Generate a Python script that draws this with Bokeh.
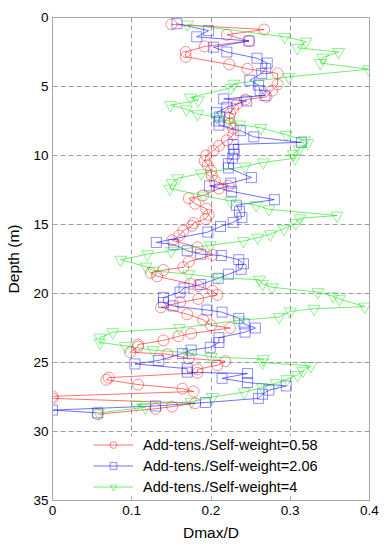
from bokeh.plotting import figure
from bokeh.models import Range1d, FixedTicker, NumeralTickFormatter
from bokeh.embed import file_html
from bokeh.resources import INLINE

# ---- data ----
red_depth = [0.5, 0.87, 1.25, 1.7, 2.1, 2.5, 2.85, 3.4, 3.72, 4.05, 4.85, 5.3, 5.75, 5.95, 6.25,
             6.6, 6.95, 7.3, 7.7, 8.05, 8.5, 8.9, 9.3, 9.65, 10.0, 10.4, 10.7, 11.1, 11.45, 11.85,
             12.2, 12.4, 12.9, 13.1, 13.5, 13.85, 14.3, 14.6, 14.9, 15.1, 15.45, 15.8, 16.15, 16.65, 17.2,
             17.7, 18.1, 18.3, 18.5, 18.75, 19.3, 19.45, 19.8, 20.1, 20.4, 20.65, 21.0, 21.5, 21.9, 22.3,
             22.5, 22.9, 23.1, 23.4, 23.7, 23.85, 24.25, 24.4, 24.7, 24.9, 25.2, 25.5, 25.75, 26.1, 26.25,
             26.6, 26.9, 27.1, 27.45, 27.6, 27.95, 28.2, 28.35, 28.75]
red_ratio = [0.150, 0.267, 0.220, 0.248, 0.192, 0.168, 0.168, 0.223, 0.246, 0.284, 0.284, 0.277, 0.270, 0.243, 0.233,
             0.228, 0.224, 0.223, 0.224, 0.228, 0.228, 0.220, 0.210, 0.203, 0.194, 0.192, 0.196, 0.200, 0.201, 0.205,
             0.222, 0.210, 0.190, 0.172, 0.180, 0.194, 0.197, 0.193, 0.178, 0.176, 0.165, 0.160, 0.151, 0.183, 0.202,
             0.172, 0.165, 0.140, 0.124, 0.132, 0.174, 0.184, 0.202, 0.208, 0.184, 0.161, 0.137, 0.170, 0.190, 0.200,
             0.224, 0.175, 0.159, 0.140, 0.108, 0.108, 0.098, 0.145, 0.172, 0.218, 0.208, 0.183, 0.183, 0.071, 0.068,
             0.108, 0.164, 0.178, 0.0, 0.0, 0.180, 0.151, 0.130, 0.057]

blue_depth = [0.45, 0.95, 1.4, 1.7, 2.15, 2.5, 2.95, 3.3, 3.7, 4.05, 4.55, 4.9, 5.3, 5.65, 5.9,
              6.05, 6.5, 6.9, 7.2, 7.5, 7.8, 8.2, 8.65, 9.05, 9.2, 9.55, 9.9, 10.2, 10.6, 10.9,
              11.6, 12.0, 12.2, 12.6, 13.2, 13.6, 14.05, 14.5, 14.85, 15.15, 15.55, 16.3, 16.45, 16.9, 17.15,
              17.25, 17.55, 17.85, 18.25, 18.6, 18.9, 19.35, 19.6, 19.9, 20.3, 20.65, 20.9, 21.2, 21.35, 21.8,
              22.2, 22.5, 22.8, 23.2, 23.55, 23.9, 24.1, 24.35, 24.85, 25.1, 25.45, 25.7, 25.8, 26.15, 26.45,
              26.7, 27.0, 27.3, 27.6, 27.9, 28.15, 28.45, 28.65]
blue_ratio = [0.157, 0.197, 0.182, 0.248, 0.203, 0.220, 0.258, 0.271, 0.269, 0.264, 0.249, 0.260, 0.262, 0.268, 0.216,
              0.245, 0.220, 0.207, 0.211, 0.210, 0.210, 0.237, 0.254, 0.314, 0.228, 0.229, 0.229, 0.227, 0.222, 0.222,
              0.251, 0.225, 0.198, 0.226, 0.280, 0.232, 0.236, 0.239, 0.228, 0.212, 0.196, 0.131, 0.153, 0.170, 0.187,
              0.213, 0.235, 0.241, 0.238, 0.222, 0.209, 0.187, 0.166, 0.161, 0.140, 0.140, 0.152, 0.195, 0.214, 0.235,
              0.242, 0.256, 0.243, 0.210, 0.210, 0.199, 0.175, 0.164, 0.134, 0.104, 0.170, 0.170, 0.246, 0.214, 0.246,
              0.295, 0.273, 0.265, 0.260, 0.193, 0.130, 0.0, 0.057]

green_depth = [0.5, 1.4, 1.75, 2.2, 2.5, 2.9, 3.3, 3.75, 4.3, 4.8, 5.1, 5.8, 6.0, 6.35, 6.65,
               7.0, 7.2, 7.5, 7.75, 8.0, 8.5, 8.9, 9.1, 9.55, 9.9, 10.2, 10.5, 10.8, 11.3, 11.65,
               12.0, 12.4, 12.9, 13.3, 13.6, 13.9, 14.35, 14.55, 14.9, 15.3, 15.7, 15.95, 16.2, 16.5, 16.9,
               17.15, 17.55, 18.05, 18.35, 18.6, 18.85, 19.0, 19.3, 19.55, 19.9, 20.2, 20.4, 20.95, 21.1, 21.3,
               21.7, 21.95, 22.5, 22.8, 23.2, 23.55, 23.8, 24.1, 24.3, 24.6, 24.75, 25.0, 25.25, 25.6, 25.9,
               26.2, 26.5, 26.8, 27.15, 27.5, 27.85, 28.05, 28.25, 28.65]
green_ratio = [0.170, 0.293, 0.320, 0.309, 0.361, 0.341, 0.338, 0.399, 0.298, 0.229, 0.225, 0.174, 0.184, 0.149, 0.169,
               0.183, 0.207, 0.222, 0.236, 0.263, 0.295, 0.318, 0.322, 0.311, 0.304, 0.306, 0.266, 0.243, 0.188, 0.158,
               0.151, 0.148, 0.190, 0.225, 0.257, 0.273, 0.359, 0.312, 0.307, 0.292, 0.275, 0.259, 0.241, 0.199, 0.150,
               0.120, 0.086, 0.118, 0.127, 0.172, 0.209, 0.261, 0.265, 0.277, 0.335, 0.354, 0.362, 0.394, 0.330, 0.300,
               0.286, 0.235, 0.160, 0.076, 0.060, 0.060, 0.092, 0.127, 0.172, 0.200, 0.266, 0.265, 0.326, 0.316, 0.309,
               0.296, 0.282, 0.265, 0.242, 0.202, 0.175, 0.106, 0.117, 0.058]

series_labels = ["Add-tens./Self-weight=0.58", "Add-tens./Self-weight=2.06", "Add-tens./Self-weight=4"]
x_ticks = [0, 0.1, 0.2, 0.3, 0.4]
y_ticks = [0, 5, 10, 15, 20, 25, 30, 35]

FONT = "Liberation Sans"
GREY = "#a6a6a6"

p = figure(width=386, height=550, output_backend="svg", toolbar_location=None,
           x_range=Range1d(0, 0.4), y_range=Range1d(35, 0),
           min_border_left=52, min_border_right=17, min_border_top=17, min_border_bottom=50)

p.background_fill_color = "white"
p.outline_line_color = GREY
p.outline_line_width = 1

for ax in (p.xaxis[0], p.yaxis[0]):
    ax.axis_line_color = GREY
    ax.major_tick_line_color = GREY
    ax.major_tick_in = 4
    ax.major_tick_out = 0
    ax.minor_tick_line_color = None
    ax.major_label_text_font = FONT
    ax.major_label_text_font_size = "13.5px"
    ax.major_label_text_color = "black"
    ax.axis_label_text_font = FONT
    ax.axis_label_text_font_size = "15.5px"
    ax.axis_label_text_font_style = "normal"
    ax.axis_label_text_color = "black"

p.xaxis.ticker = FixedTicker(ticks=x_ticks)
p.xaxis.formatter = NumeralTickFormatter(format="0.[0]")
p.xaxis.major_label_standoff = 5
p.xaxis.axis_label = "Dmax/D"
p.xaxis.axis_label_standoff = 6

p.yaxis.ticker = FixedTicker(ticks=y_ticks)
p.yaxis.major_label_standoff = 4
p.yaxis.axis_label = "Depth (m)"
p.yaxis.axis_label_standoff = 8

p.xgrid.ticker = FixedTicker(ticks=[0.1, 0.2, 0.3])
p.ygrid.ticker = FixedTicker(ticks=[5, 10, 15, 20, 25, 30])
for g in (p.xgrid[0], p.ygrid[0]):
    g.grid_line_color = "#9a9a9a"
    g.grid_line_dash = "5 3"
    g.grid_line_width = 1

specs = [
    (red_ratio, red_depth, "#ff0000", "circle", 11, series_labels[0]),
    (blue_ratio, blue_depth, "#0000ff", "square", 10, series_labels[1]),
    (green_ratio, green_depth, "#00e000", "inverted_triangle", 12, series_labels[2]),
]
for xs, ys, col, mk, sz, lab in specs:
    p.line(xs, ys, line_color=col, line_width=0.7, line_alpha=0.8, legend_label=lab)
    p.scatter(xs, ys, marker=mk, size=sz, fill_color=None, line_color=col,
              line_width=0.8, line_alpha=0.55, legend_label=lab)

lg = p.legend[0]
lg.location = (41, 5)
lg.background_fill_color = "white"
lg.background_fill_alpha = 1.0
lg.border_line_color = None
lg.label_text_font = FONT
lg.label_text_font_size = "14.5px"
lg.label_text_color = "black"
lg.glyph_width = 40
lg.glyph_height = 17
lg.label_height = 17
lg.spacing = 4
lg.padding = 4
lg.margin = 0
lg.label_standoff = 10

open("out.html", "w").write(file_html(p, INLINE))
